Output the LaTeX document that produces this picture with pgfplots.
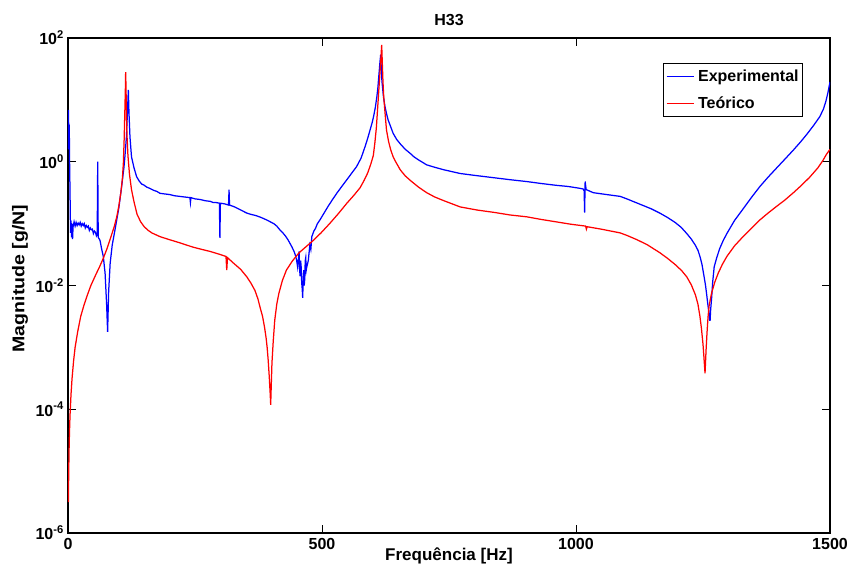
\documentclass[border=0pt]{standalone}
\usepackage{pgfplots}
\pgfplotsset{compat=1.18}
\usepackage{pgfplotstable}
\usepackage{fontspec}
\setmainfont{Liberation Sans}

% columns: f = frequency [Hz], L = log10 of magnitude [g/N]
\pgfplotstableread{
f L
0.3 0.2
1 0.84
1.6 0.3
2.5 0.6
3 0.08
4 -0.5
5 -1.15
6 -0.95
7 -1.22
8 -1.0
9 -1.25
10 -1.05
12 -0.97
14 -1.04
16 -0.98
18 -1.03
20 -0.99
22 -1.02
24 -0.98
26 -1.04
28 -1.0
30 -1.03
32 -1.0
34 -1.07
36 -1.03
38 -1.06
40 -1.04
42 -1.11
44 -1.07
46 -1.1
48 -1.09
50 -1.16
52 -1.12
54 -1.14
56 -1.2
57.5 -1.18
58.5 0.0
59.5 -1.22
63 -1.27
66 -1.4
69.5 -1.53
73 -1.8
76 -2.3
78 -2.75
80 -2.1
83 -1.64
87 -1.35
92.5 -1.1
100 -0.75
105.6 -0.4
110 -0.1
112 0.08
115 0.4
117 0.8
118.8 1.16
120 0.8
122 0.4
125 0.08
130 -0.1
135 -0.24
140 -0.31
145 -0.36
150 -0.38
155 -0.41
161 -0.43
168 -0.46
175 -0.48
181 -0.51
190 -0.52
200 -0.53
210 -0.55
220 -0.56
230 -0.57
240 -0.58
241 -0.66
242 -0.58
250 -0.6
260 -0.61
270 -0.63
280 -0.64
286 -0.66
292 -0.66
298 -0.67
299 -1.23
300 -0.67
308 -0.68
316 -0.7
317 -0.45
318 -0.7
328 -0.73
340 -0.78
352 -0.83
360 -0.85
370 -0.87
380 -0.9
391 -0.94
398 -0.97
405 -1.0
411 -1.04
417 -1.1
422 -1.14
428 -1.2
433 -1.26
437 -1.32
441 -1.38
445 -1.45
448 -1.52
450 -1.59
452 -1.7
453 -1.62
455 -1.45
456 -1.75
457 -1.85
458 -1.6
459 -1.7
460 -1.95
461 -2.05
462 -2.2
463 -1.9
464 -1.75
465 -2.0
466 -1.9
467 -1.6
468 -1.55
469 -1.75
470 -1.7
473 -1.6
476 -1.35
478 -1.42
480 -1.21
484 -1.12
487 -1.08
491 -1.0
496 -0.94
504 -0.83
512 -0.72
520 -0.62
529 -0.51
538 -0.41
548 -0.3
558 -0.19
568 -0.08
577 0.06
585 0.25
590 0.38
594.5 0.51
599 0.64
602 0.75
605 0.88
608 1.05
610 1.2
612 1.4
614 1.6
615.5 1.73
616.5 1.55
618 1.3
621 1.05
624 0.89
627 0.78
630 0.68
635 0.57
640 0.46
647 0.36
655 0.28
664 0.2
673 0.14
681 0.08
690 0.03
698 -0.01
706 -0.05
722 -0.09
740 -0.13
756 -0.16
772 -0.19
800 -0.22
820 -0.24
840 -0.26
870 -0.29
903 -0.32
930 -0.35
960 -0.38
985 -0.4
1008 -0.43
1014 -0.44
1016 -0.47
1017 -0.82
1018 -0.32
1020 -0.45
1034 -0.5
1060 -0.53
1087 -0.56
1100 -0.6
1115 -0.65
1130 -0.7
1148 -0.76
1165 -0.83
1180 -0.9
1195 -0.98
1207 -1.06
1218 -1.16
1227 -1.25
1235 -1.35
1240 -1.43
1244 -1.53
1248 -1.66
1252 -1.85
1255 -2.0
1257 -2.13
1259 -2.27
1261 -2.4
1263 -2.56
1264 -2.56
1265 -2.4
1267 -2.2
1269 -1.95
1272 -1.7
1277 -1.55
1283 -1.4
1290 -1.27
1297 -1.16
1312 -0.95
1330 -0.75
1346 -0.57
1362 -0.4
1378 -0.25
1395 -0.1
1411 0.04
1428 0.19
1442 0.32
1455 0.45
1468 0.59
1480 0.73
1487 0.85
1492 0.98
1496 1.12
1500 1.29
}\exptable

\pgfplotstableread{
f L
0.8 -5.5
1.3 -5.1
2 -4.7
3 -4.35
4 -4.1
6 -3.75
8 -3.5
11 -3.22
14 -3.0
19 -2.75
25 -2.5
31 -2.33
37 -2.18
45 -2.0
55 -1.82
62 -1.7
69 -1.57
77 -1.4
85 -1.2
91 -1.05
96 -0.89
100 -0.72
104 -0.5
107 -0.28
109 -0.02
110.5 0.35
112 0.85
113 1.2
113.5 1.45
114.2 1.2
115 0.8
116 0.45
118 0.1
121 -0.2
125 -0.45
130 -0.65
136 -0.85
143 -0.97
150 -1.05
158 -1.11
165 -1.15
173 -1.18
181 -1.21
200 -1.26
220 -1.31
246 -1.38
265 -1.42
280 -1.45
296 -1.49
311 -1.53
312.5 -1.75
314 -1.55
326 -1.64
340 -1.74
352 -1.86
360 -1.96
368 -2.08
374 -2.22
378 -2.35
383 -2.5
387 -2.68
390 -2.85
392 -3.0
394 -3.2
396 -3.45
398 -3.75
399 -3.93
400 -3.65
401.5 -3.25
404 -2.9
407 -2.56
411 -2.3
415 -2.13
422 -1.92
430 -1.75
442 -1.6
455 -1.47
469 -1.37
483 -1.27
498 -1.15
515 -1.0
532 -0.84
549 -0.67
562 -0.55
575 -0.42
583 -0.3
590 -0.18
596 -0.04
601 0.1
604 0.3
607 0.55
609 0.8
611 1.05
613 1.3
615 1.55
616.5 1.75
617.5 1.89
618.5 1.65
620 1.3
621.5 1.05
623 0.9
625 0.7
627 0.51
631 0.33
635 0.2
640 0.08
645 0.0
654 -0.13
664 -0.23
675 -0.31
690 -0.41
706 -0.5
722 -0.57
740 -0.63
756 -0.68
772 -0.73
805 -0.78
840 -0.82
870 -0.86
903 -0.89
930 -0.93
960 -0.97
990 -1.01
1019 -1.04
1020.5 -1.09
1022 -1.05
1050 -1.09
1087 -1.15
1100 -1.19
1120 -1.26
1140 -1.34
1165 -1.47
1180 -1.56
1195 -1.66
1208 -1.76
1218 -1.86
1227 -1.99
1235 -2.15
1240 -2.3
1244 -2.5
1247 -2.7
1250 -2.95
1252 -3.18
1254 -3.42
1256 -3.05
1258 -2.75
1260 -2.5
1262 -2.33
1265 -2.2
1267 -2.12
1273 -1.95
1280 -1.8
1288 -1.66
1297 -1.53
1312 -1.36
1330 -1.2
1346 -1.07
1362 -0.94
1378 -0.83
1395 -0.72
1411 -0.62
1428 -0.5
1444 -0.38
1460 -0.25
1476 -0.1
1486 0.02
1493 0.12
1500 0.2
}\teotable

\begin{document}
\begin{tikzpicture}
\path[use as bounding box] (-68pt,-36pt) rectangle (783pt,533pt);
\begin{axis}[
  at={(0pt,0pt)}, anchor=south west,
  scale only axis, width=762pt, height=495pt,
  xmin=0, xmax=1500,
  ymode=log, ymin=1e-6, ymax=1e2,
  xtick={0,500,1000,1500},
  xticklabels={0,500,1000,1500},
  ytick={1e-6,1e-4,1e-2,1,1e2},
  yticklabels={10\textsuperscript{-6},10\textsuperscript{-4},10\textsuperscript{-2},10\textsuperscript{0},10\textsuperscript{2}},
  yminorticks=false, xminorticks=false,
  tick align=inside,
  major tick length=8pt,
  tick style={black, line width=0.8pt},
  axis line style={black, line width=1.2pt},
  xticklabel style={font=\fontsize{16}{19}\selectfont\bfseries, anchor=base, yshift=-16pt, inner sep=0pt},
  yticklabel style={font=\fontsize{16}{19}\selectfont\bfseries, anchor=east, inner sep=0pt, xshift=-4pt},
  title={H33},
  title style={font=\fontsize{16}{19}\selectfont\bfseries, at={(axis description cs:0.5,1.014)}, anchor=base},
  xlabel={Frequência [Hz]},
  xlabel style={font=\fontsize{17}{20}\selectfont\bfseries, at={(axis description cs:0.5,-0.0565)}, anchor=base},
  ylabel={\scalebox{1.15}[1]{Magnitude [g/N]}},
  ylabel style={font=\fontsize{17}{20}\selectfont\bfseries, at={(axis description cs:-0.063,0.514)}, anchor=center},
  legend style={at={(axis description cs:0.9646,0.9495)}, anchor=north east,
    draw=black, line width=0.8pt, fill=white,
    font=\fontsize{16}{19}\selectfont\bfseries,
    inner xsep=3pt, inner ysep=6pt, row sep=11pt,
    nodes={inner sep=1pt},
    /tikz/every odd column/.append style={column sep=3pt}},
  legend cell align=left,
  legend image code/.code={\draw[#1, line width=1pt] (0pt,0pt) -- (27pt,0pt);},
]
\addplot[blue, line width=1.25pt] table[x=f, y expr=10^(\thisrow{L})] {\exptable};
\addlegendentry{Experimental}
\addplot[red, line width=1.25pt] table[x=f, y expr=10^(\thisrow{L})] {\teotable};
\addlegendentry{Teórico}
\end{axis}
\end{tikzpicture}
\end{document}
